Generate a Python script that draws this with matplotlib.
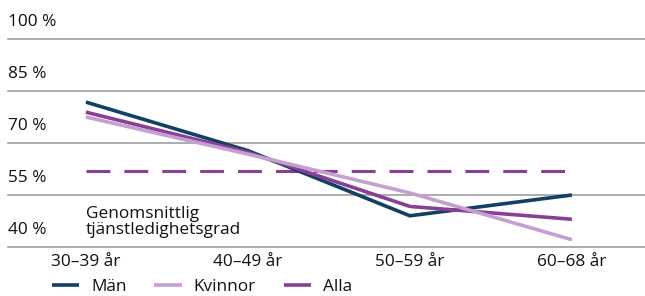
import matplotlib
matplotlib.use('Agg')
import matplotlib.pyplot as plt
from matplotlib.transforms import blended_transform_factory

categories = ['30–39 år', '40–49 år', '50–59 år', '60–68 år']
man = [81.8, 67.8, 49.0, 55.0]
kvinnor = [77.5, 66.8, 55.6, 42.1]
alla = [78.9, 67.3, 51.7, 48.0]
snitt = 62.0
yticks = [40, 55, 70, 85, 100]
ytick_labels = ['40 %', '55 %', '70 %', '85 %', '100 %']

C_MAN = '#123f66'
C_KV = '#c3a0cf'
C_ALLA = '#8a3f97'
TXT = '#111111'

plt.rcParams['font.family'] = ['Open Sans', 'DejaVu Sans']
fs = 12.4

fig = plt.figure(figsize=(6.45, 2.96), dpi=100)
ax = fig.add_axes([8/645, 49/296, 637/645, 208/296])

xs = list(range(len(categories)))
ax.plot(xs, man, color=C_MAN, lw=2.6, solid_capstyle='butt', label='Män', zorder=3)
ax.plot(xs, kvinnor, color=C_KV, lw=2.6, solid_capstyle='butt', label='Kvinnor', zorder=4)
ax.plot(xs, alla, color=C_ALLA, lw=2.6, solid_capstyle='butt', label='Alla', zorder=3)
ax.plot([xs[0], xs[-1] - 0.04], [snitt, snitt], color=C_ALLA, lw=2.2,
        dashes=(7.8, 4.6), zorder=2)

ax.set_xlim(-0.481, 3.451)
ax.set_ylim(40, 100)
for y in yticks:
    ax.axhline(y, color='#a0a0a0', lw=1.2, zorder=1, clip_on=False)
for s in ax.spines.values():
    s.set_visible(False)
ax.set_yticks([])
ax.set_xticks(xs)
ax.set_xticklabels(categories, fontsize=fs, color=TXT)
ax.tick_params(axis='x', length=0, pad=5)

tr = blended_transform_factory(ax.transAxes, ax.transData)
for y, lab in zip(yticks, ytick_labels):
    ax.text(0, y + 5, lab, transform=tr, ha='left', va='center', fontsize=fs, color=TXT)

ax.text(xs[0], 47.3, 'Genomsnittlig\ntjänstledighetsgrad', ha='left', va='center',
        fontsize=fs, linespacing=1.0, color=TXT)

fig.legend(loc='lower left', bbox_to_anchor=(36/645, -0.05), ncol=3, frameon=False,
           fontsize=fs, handlelength=1.6, handletextpad=0.7, columnspacing=1.6,
           labelcolor=TXT)

fig.savefig('out.png', dpi=100)
